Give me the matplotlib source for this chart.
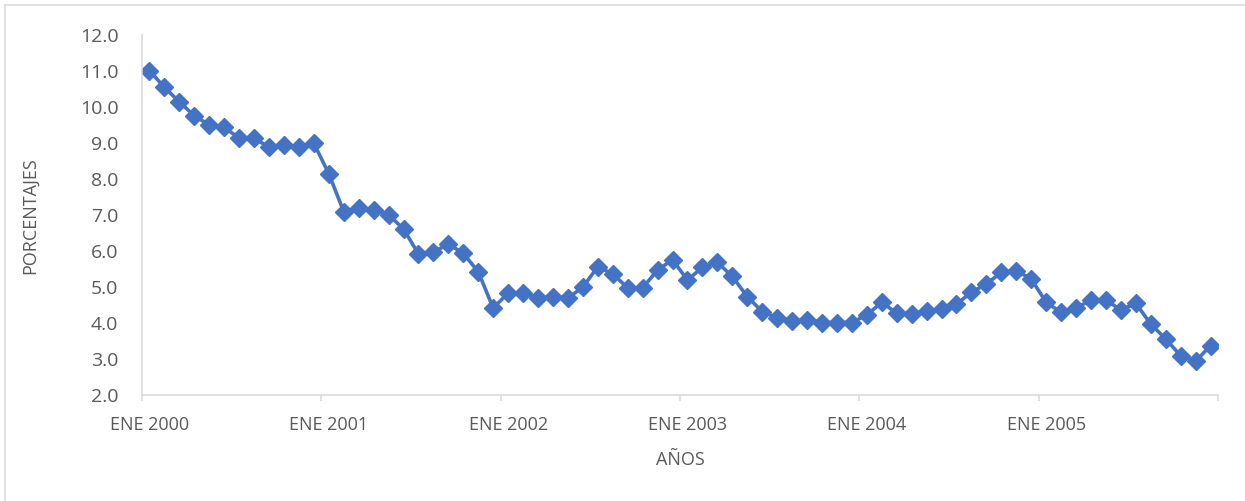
import matplotlib
matplotlib.use("Agg")
import matplotlib.pyplot as plt
import numpy as np
from matplotlib.lines import Line2D

# ---- data ----
years = ["2000", "2001", "2002", "2003", "2004", "2005"]
tick_labels = ["ENE " + y for y in years]
values = [
    11.0, 10.53, 10.13, 9.74, 9.49, 9.42, 9.12, 9.12, 8.87, 8.93, 8.87, 8.98,   # 2000
    8.13, 7.08, 7.18, 7.13, 6.99, 6.60, 5.90, 5.95, 6.18, 5.92, 5.41, 4.40,     # 2001
    4.82, 4.82, 4.68, 4.72, 4.68, 4.98, 5.55, 5.35, 4.96, 4.96, 5.46, 5.74,     # 2002
    5.18, 5.53, 5.67, 5.28, 4.72, 4.30, 4.13, 4.05, 4.07, 4.00, 4.00, 4.00,     # 2003
    4.21, 4.56, 4.26, 4.24, 4.31, 4.38, 4.51, 4.84, 5.07, 5.39, 5.44, 5.21,     # 2004
    4.56, 4.28, 4.40, 4.62, 4.62, 4.35, 4.53, 3.96, 3.54, 3.08, 2.92, 3.36,     # 2005
]
y_ticks = [2.0, 3.0, 4.0, 5.0, 6.0, 7.0, 8.0, 9.0, 10.0, 11.0, 12.0]

plt.rcParams['font.family'] = ['Open Sans', 'DejaVu Sans']

W, H = 1245, 502
fig = plt.figure(figsize=(W / 100, H / 100), dpi=100)
ax = fig.add_axes([142 / W, 1 - 395.5 / H, (1218 - 142) / W, (395.5 - 35.5) / H])

x = np.arange(len(values))
ax.plot(x, values, color="#4472C4", linewidth=2.6, marker="D", markersize=9.5,
        markerfacecolor="#4472C4", markeredgecolor="#4472C4")

ax.set_xlim(-0.5, len(values) - 0.5)
ax.set_ylim(2.0, 12.0)

text_color = "#595959"
grid_color = "#d9d9d9"

ax.set_yticks(y_ticks)
ax.set_yticklabels([f"{v:.1f}" for v in y_ticks])
ax.tick_params(axis="y", length=0, pad=17, labelsize=14, labelcolor=text_color)

major_pos = [12 * i for i in range(len(years))]
ax.set_xticks(major_pos)
ax.set_xticklabels(tick_labels)
ax.set_xticks([12 * i - 0.5 for i in range(len(years) + 1)], minor=True)
ax.tick_params(axis="x", which="major", length=0, pad=15, labelsize=13, labelcolor=text_color)
ax.tick_params(axis="x", which="minor", length=4, width=1.1, color=grid_color)

for s in ["top", "right"]:
    ax.spines[s].set_visible(False)
for s in ["left", "bottom"]:
    ax.spines[s].set_color(grid_color)
    ax.spines[s].set_linewidth(1.1)

fig.text(30 / W, 1 - 216 / H, "PORCENTAJES", rotation=90, ha="center", va="center",
         fontsize=13, color=text_color)
fig.text(680 / W, 1 - 460 / H, "AÑOS", ha="center", va="center",
         fontsize=13, color=text_color)

# chart-area border (top and left visible)
fig.add_artist(Line2D([5.5 / W, 1.0], [1 - 5.5 / H, 1 - 5.5 / H], color=grid_color,
                      linewidth=1.1, transform=fig.transFigure))
fig.add_artist(Line2D([5.5 / W, 5.5 / W], [0.0, 1 - 5.5 / H], color=grid_color,
                      linewidth=1.1, transform=fig.transFigure))

fig.savefig("out.png", dpi=100, facecolor="white")
